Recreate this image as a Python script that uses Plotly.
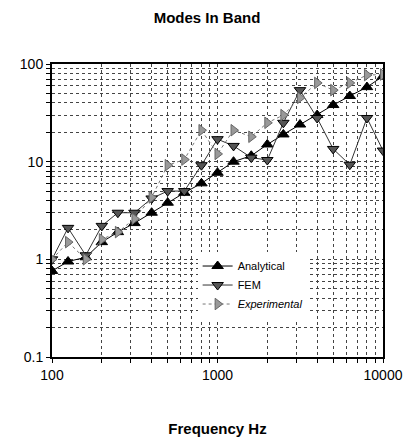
import plotly.graph_objects as go

freqs = [100, 125, 160, 200, 250, 315, 400, 500, 630, 800, 1000, 1250, 1600,
         2000, 2500, 3150, 4000, 5000, 6300, 8000, 10000]
analytical = [0.76, 0.95, 1.05, 1.5, 1.9, 2.35, 3.0, 3.8, 4.8, 6.0, 7.7, 10, 11.5,
              15, 19, 24, 30, 38, 47, 58, 75]
fem = [1.0, 2.1, 1.1, 2.2, 3.0, 3.0, 4.2, 5.0, 5.0, 9.2, 17, 14.5, 11,
       10.4, 25, 54, 28, 13.5, 9.3, 28, 13]
experimental = [1.0, 1.5, 1.0, 1.6, 1.9, 2.6, 4.3, 9.2, 10.5, 21, 12, 21, 18,
                25, 30, 45, 64, 54, 64, 77, 78]

x_tick_vals = [m * 10 ** e for e in (2, 3) for m in range(1, 10)] + [10000]
x_tick_text = ["100" if v == 100 else "1000" if v == 1000 else "10000" if v == 10000 else "" for v in x_tick_vals]
y_tick_vals = [m * 10 ** e for e in (-1, 0, 1) for m in range(1, 10)] + [100]
y_labels = {0.1: "0.1", 1: "1", 10: "10", 100: "100"}
y_tick_text = [y_labels.get(round(v, 6), "") for v in y_tick_vals]

fig = go.Figure()
fig.add_trace(go.Scatter(
    x=freqs, y=analytical, name="Analytical", mode="lines+markers",
    line=dict(color="black", width=1),
    marker=dict(symbol="triangle-up", size=10, color="black", line=dict(color="black", width=1))))
fig.add_trace(go.Scatter(
    x=freqs, y=fem, name="FEM", mode="lines+markers",
    line=dict(color="#333333", width=1),
    marker=dict(symbol="triangle-down", size=10, color="#555555", line=dict(color="black", width=1))))
fig.add_trace(go.Scatter(
    x=freqs, y=experimental, name="<i>Experimental</i>", mode="lines+markers",
    line=dict(color="#777777", width=1, dash="dot"),
    marker=dict(symbol="triangle-right", size=10, color="#999999", line=dict(color="#666666", width=1))))

fig.update_layout(
    width=414, height=441,
    margin=dict(l=52, r=31, t=64, b=84),
    paper_bgcolor="white", plot_bgcolor="white",
    font=dict(family="Liberation Sans, Arial, sans-serif", size=14, color="black"),
    title=dict(text="<b>Modes In Band</b>", x=0.5, xanchor="center", y=0.96, yanchor="middle",
               font=dict(size=15)),
    showlegend=True,
    legend=dict(x=0.44, y=0.36, xanchor="left", yanchor="top", bgcolor="white",
                font=dict(size=11), tracegroupgap=0, itemwidth=30),
)
fig.update_xaxes(
    type="log", range=[2, 4], tickvals=x_tick_vals, ticktext=x_tick_text,
    ticks="outside", ticklen=4, tickcolor="black", showline=True, linecolor="black", linewidth=2,
    mirror=True, showgrid=True, gridcolor="#444444", griddash="dot", gridwidth=1, zeroline=False,
    automargin=False,
    title=dict(text="<b>Frequency Hz</b>", font=dict(size=15), standoff=42),
)
fig.update_yaxes(
    type="log", range=[-1, 2], tickvals=y_tick_vals, ticktext=y_tick_text,
    ticks="outside", ticklen=4, tickcolor="black", showline=True, linecolor="black", linewidth=2,
    mirror=True, showgrid=True, gridcolor="#444444", griddash="dot", gridwidth=1, zeroline=False,
    automargin=False,
)

fig.write_html("out.html")
